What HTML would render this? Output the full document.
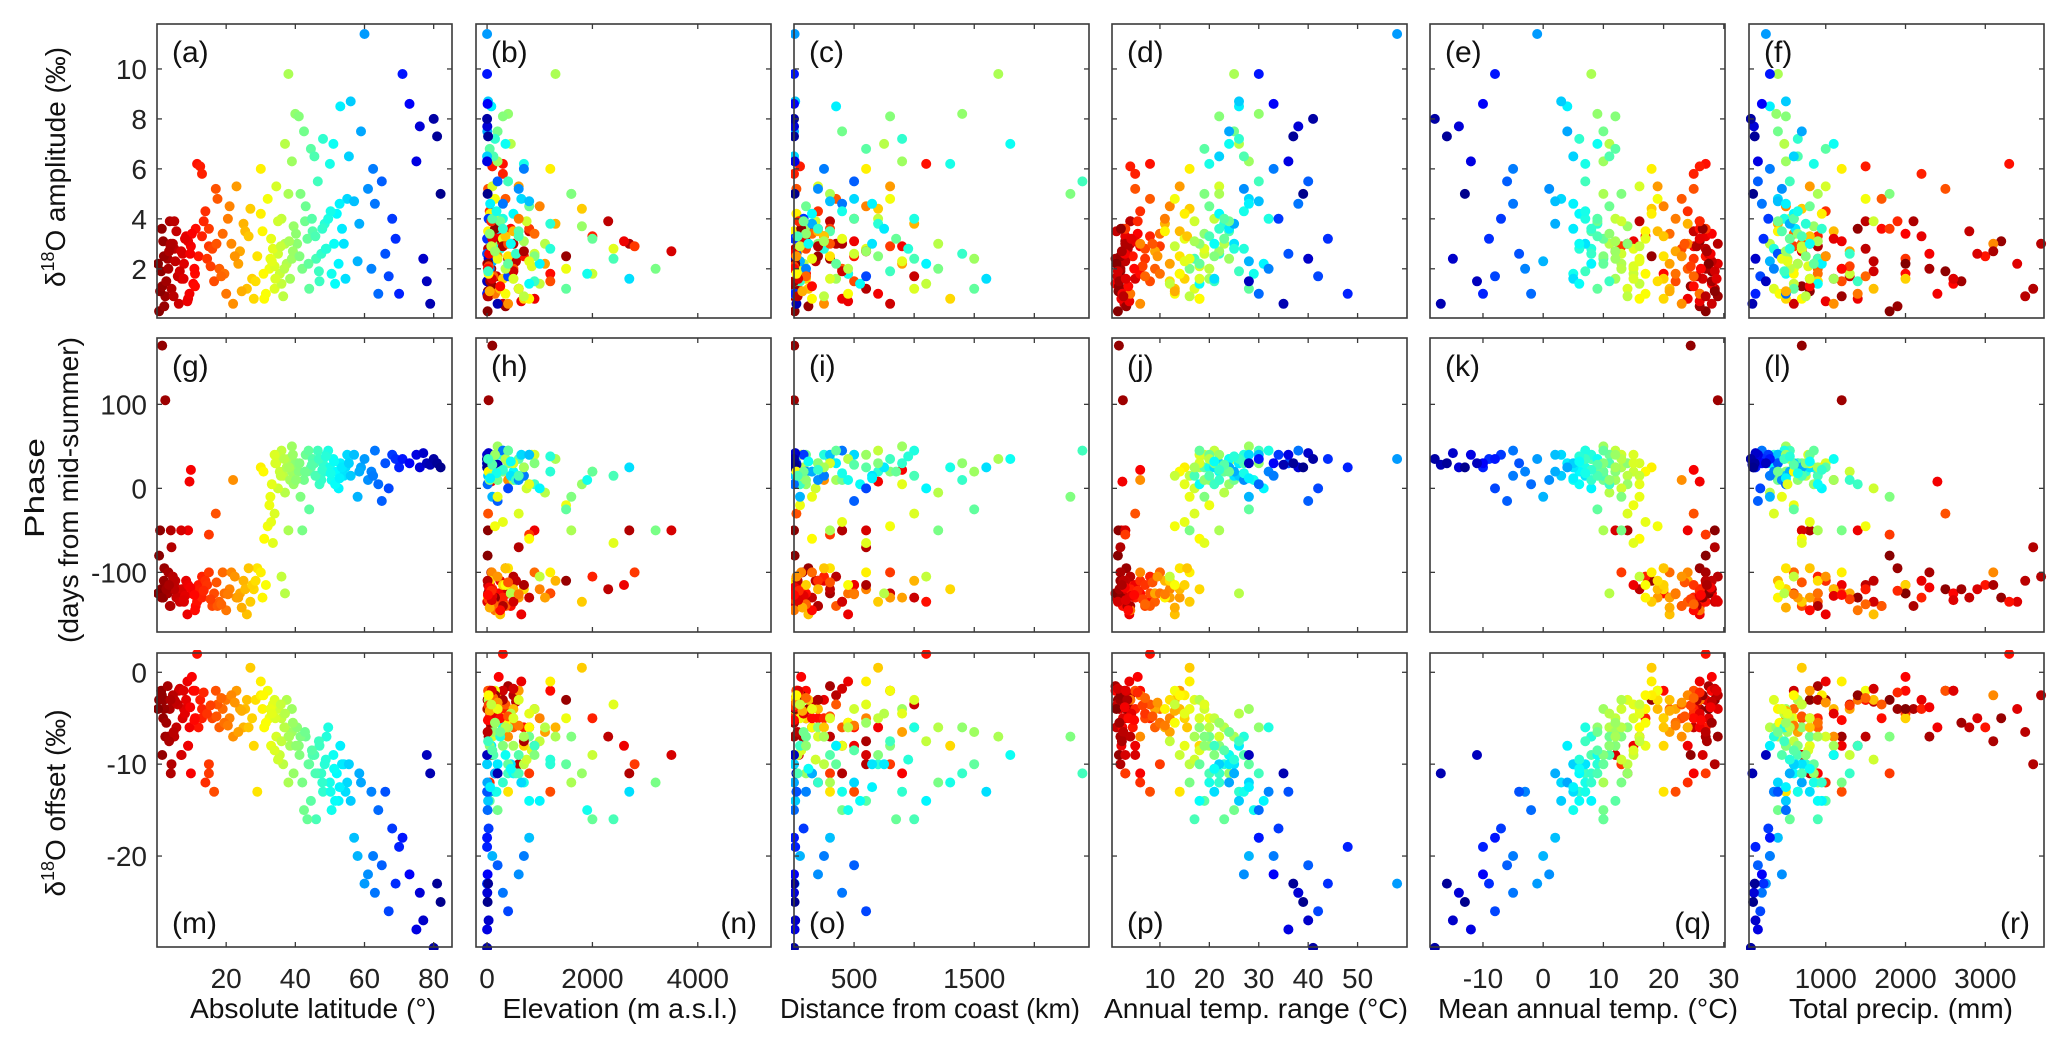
<!DOCTYPE html>
<html><head><meta charset="utf-8"><title>d18O scatter panels</title>
<style>
html,body{margin:0;padding:0;background:#fff;}
svg{display:block;font-family:"Liberation Sans",Arial,sans-serif;}
</style></head>
<body>
<svg id="fig" xmlns="http://www.w3.org/2000/svg" width="2067" height="1048" viewBox="0 0 2067 1048">
<rect x="0" y="0" width="2067" height="1048" fill="#fff"/>
<g id="marks"></g>
<g id="frames"></g>
<g id="labels"></g>
</svg>
<script>
// ---- station data, grouped by latitude band ----
const lat = [
0.6,1.2,1.8,2.4,3.1,3.7,4.2,5.0,5.6,6.3,7.1,7.8,8.4,9.0,9.8,10.5,11.2,12.0,0.9,2.1,3.3,4.6,6.0,7.4,8.8,10.1,11.6,1.5,5.3,9.4,
2,4,5,7,9,11,13,15,
12.5,13,14,15,16,16.5,17,18,19,20,21,22,23,24,25,26,27,28,14.5,17.5,19.5,21.5,23.5,25.5,27.5,
28.5,29,30,30.5,31,32,32.5,33,34,34.5,35,35.5,36,36.5,37,37.5,38,38.5,39,39.5,40,30,31.5,33.5,35,36,37,38,39,34,
40.5,41,42,42.5,43,44,44.5,45,46,46.5,47,48,48.5,49,50,50.5,51,52,52.5,53,54,54.5,55,41.5,43.5,45.5,47.5,49.5,51.5,53.5,
55.5,56,57,58,59,60,61,62,63,64,65,66,67,68,69,70,58.5,62.5,
71,73,75,76,77,78,79,80,81,82,
0.3,1.4,2.7,3.9,4.8,6.6,8.1,9.6,11.0,13.5,15.5,17.2,18.6,20.5,22.5,24.5,26.5,3.5,7.7,10.8,
30.8,32.8,34.2,35.8,36.8,38.2,39.3,40.2,41.2,42.8,43.8,44.8,45.8,46.8,47.8,48.8,50.2,51.2,52.8,33.2];
const elev = [
10,50,200,30,400,120,600,20,800,300,100,5,250,900,150,60,450,700,15,350,80,500,180,40,650,220,300,100,550,75,
1500,2700,2300,3500,2600,1200,2000,2800,
100,300,50,800,200,1200,20,500,900,150,1000,400,600,80,1300,250,1800,700,60,350,450,90,1100,500,300,
50,400,1200,20,800,150,1500,300,600,100,900,2000,250,700,1100,30,1300,500,200,1800,400,60,350,2400,750,1000,450,1600,120,850,
100,300,3200,200,800,1500,50,600,2400,400,900,150,1200,250,700,1900,350,500,1000,80,450,2700,650,1600,2000,120,550,300,800,200,
0,20,800,100,5,0,600,50,300,10,200,0,400,30,0,0,150,700,
0,10,0,5,30,0,200,0,20,10,
20,150,60,300,10,500,100,40,250,80,30,400,120,600,200,50,350,700,90,15,
30,200,500,80,350,700,150,50,900,250,400,100,600,20,300,1200,180,450,60,800];
const dist = [
5,20,100,0,300,50,600,10,150,800,40,0,250,400,900,30,200,500,0,120,70,350,1000,15,450,60,1100,2,180,700,
200,400,300,600,500,100,250,800,
50,0,200,300,100,500,20,400,150,0,600,250,800,30,1000,120,700,1300,10,350,450,60,900,200,100,
10,300,600,0,150,800,50,400,1000,200,500,30,700,250,1200,80,1700,350,900,100,1400,20,450,600,180,1100,750,300,1500,60,
200,800,1200,400,100,1500,600,300,1000,2400,50,900,700,250,1300,450,1800,150,1100,350,650,1600,500,2300,850,0,1400,1000,550,750,
0,10,300,50,0,5,200,100,400,0,500,20,600,80,0,10,150,250,
0,0,5,0,10,0,20,0,0,5,
10,60,0,200,30,400,80,5,150,40,0,300,100,500,20,70,250,600,35,0,
20,150,300,50,450,250,600,100,700,80,350,500,30,800,200,950,400,120,650,900];
const trange = [
1.5,2,3,2.5,1,4,2,3.5,1.2,2.8,5,1.8,3,2.2,6,1,2.5,4.5,1.6,3.2,2,4,1.4,2.6,3.8,5.5,8,1.7,3,2.4,
2,3,4,3,5,6,8,10,
4,5,6,3,7,8,5,9,10,4,12,6,14,9,11,13,16,18,7,8,10,6,12,14,15,
12,14,16,11,18,13,20,15,17,22,19,14,21,16,23,18,25,20,28,24,30,15,13,19,17,12,26,22,24,18,
18,22,16,25,20,28,19,24,17,30,21,26,23,27,20,29,24,22,31,26,25,21,28,19,23,27,22,32,18,24,
22,26,30,28,24,58,27,32,38,30,40,36,42,34,44,48,25,33,
30,33,36,38,40,28,35,41,37,39,
1.2,2.1,1.8,3.4,2.6,1.5,4.2,2.9,3.6,5.5,6.5,8.5,7.0,11.0,9.5,13.0,15.5,2.3,3.1,4.8,
14,16,18,13,20,17,22,19,21,24,18,23,20,26,22,25,27,21,28,15];
const tmean = [
27,28,26,29,27.5,26,28.5,27,25,28,26.5,29,27,24,25,28,26,27,28.5,26,27,29,25.5,27.5,26,28,27,24.5,28,26,
18,14,16,12,15,20,17,13,
26,25,24,27,23,22,25,24,21,26,20,23,19,22,24,21,18,20,25,23,22,24,21,19,20,
19,20,18,17,16,19,15,17,14,16,13,15,12,14,11,13,8,12,10,14,9,18,17,15,13,16,11,10,12,15,
14,12,13,10,11,9,12,8,10,7,11,6,9,8,7,5,9,6,8,4,7,5,3,13,10,11,8,7,6,5,
5,3,2,0,4,-1,1,-3,-5,-2,-6,-4,-8,-7,-9,-10,2,-5,
-8,-10,-12,-14,-15,-11,-17,-18,-16,-13,
27.5,26.5,28,25.5,27,28.5,26,27.8,25,26,24.5,23.5,25,22,23,21,20,27.2,28.8,26.2,
17,16,15,16,13,12,12,11,10,9,10,9,9,7,8,6,7,6,5,16];
const precip = [
1800,2500,3200,1200,900,2100,3600,1500,2800,600,1100,3400,2200,1400,900,2600,1700,3000,800,1900,2300,3700,1300,2900,1000,2000,3300,700,1600,2400,
1000,800,1500,700,1200,2000,900,600,
1500,2200,1000,1800,700,1200,2500,900,600,1400,500,1100,800,1300,400,1600,700,500,2000,1700,900,3100,650,1100,2000,
900,500,1200,400,700,1500,600,800,350,1000,450,1300,550,750,300,650,400,1100,500,850,380,950,420,700,1600,600,480,900,520,780,
700,500,1200,400,800,600,1000,450,900,550,1400,650,750,350,850,500,1100,600,950,300,700,800,400,1800,550,650,1300,480,900,620,
600,500,400,300,700,250,450,350,200,500,150,400,180,280,220,120,550,300,
300,200,150,100,120,250,80,60,110,90,
2000,1400,2700,900,3500,1600,1100,2300,800,1900,1300,700,1500,600,1000,500,800,3100,2600,1200,
600,450,800,700,550,900,500,650,750,400,850,600,700,480,950,550,650,800,500,520];
const amp = [
0.3,1.9,3.1,0.9,2.4,3.9,1.2,2.8,3.5,0.6,1.6,2.2,3.3,0.8,2.9,1.4,3.6,2.5,1.1,0.5,2.0,3.0,1.7,2.6,0.7,3.4,6.2,1.3,2.3,1.0,
2.5,3.0,3.9,2.7,3.1,1.8,3.3,2.9,
6.1,5.8,4.3,3.6,2.8,1.5,5.2,2.0,3.4,1.0,4.5,0.6,5.3,2.7,3.8,1.2,4.4,0.8,2.4,4.8,1.8,3.0,2.2,3.5,1.6,
1.5,2.5,6.0,3.5,0.8,4.8,2.0,3.2,1.2,5.3,2.6,1.8,4.0,0.9,3.0,2.2,9.8,1.6,6.3,3.7,8.2,4.2,1.0,2.8,3.9,1.4,7.0,5.0,2.4,2.1,
3.0,8.1,2.0,7.5,4.5,1.2,6.8,3.5,2.4,5.5,1.5,7.2,3.8,2.8,6.2,1.8,7.0,4.2,2.2,8.5,3.0,1.6,4.8,5.0,3.2,6.5,2.6,4.0,1.4,3.6,
6.5,8.7,4.7,2.3,7.5,11.4,5.2,2.0,4.6,1.0,5.5,2.6,1.7,4.0,3.2,1.0,3.8,6.0,
9.8,8.6,6.3,7.7,2.4,1.5,0.6,8.0,7.3,5.0,
2.2,3.6,1.5,2.9,0.9,1.9,3.2,2.6,1.3,3.9,2.1,3.0,1.7,4.0,2.5,1.1,3.3,2.7,1.6,2.0,
1.8,2.4,1.6,2.9,2.0,3.1,2.7,3.4,2.5,3.9,2.2,4.0,3.3,1.9,3.6,2.8,4.3,3.0,4.6,2.3];
const phase = [
-80,-120,-130,105,-125,-140,-70,-115,-130,-125,-120,-135,-110,-50,22,-125,-140,-115,-50,-95,-100,-105,-130,-120,-150,-125,-135,170,-110,8,
-110,-50,-120,-50,-115,-125,-105,-100,
-120,-130,-110,-55,-140,-125,-30,-135,-100,-145,-120,10,-130,-125,-110,-150,-135,-120,-115,-140,-125,-100,-130,-120,-115,
-110,-95,-100,-130,-60,-45,-20,-40,-30,30,40,20,45,15,-5,25,35,10,50,5,30,25,-115,-65,0,-105,-125,-50,20,40,
30,20,-50,10,40,-25,25,35,15,45,5,30,20,40,25,10,35,20,0,30,15,25,40,-10,20,30,10,45,5,25,
30,15,40,-10,25,35,10,20,45,5,-15,30,0,40,35,25,20,15,
35,30,40,25,42,30,28,35,30,25,
-125,-130,-120,-140,-110,-135,-128,-118,-145,-122,-132,-112,-138,-126,-105,-142,-95,-115,-133,-127,
20,-10,30,15,35,25,40,10,30,20,45,28,15,35,22,38,18,32,12,5];
const offset = [
-3,-2,-5,-7,-1.5,-4,-10,-3,-6,-2,-9,-4,-3,-8,-11,-2,-5,-6,-3,-4,-7,-2.5,-3.5,-5,-1,-0.5,2,-9,-3.2,-6,
-3,-11,-7,-9,-8,-2,-5,-10,
-3,-4,-12,-11,-5,-13,-2,-6,-4,-3,-5,-7,-2,-4,-6,-3,0.5,-8,-4.5,-3.5,-5.5,-2.5,-6.5,-4,-5,
-3,-13,-1,-4,-6,-2,-5,-8,-3,-7,-4,-9,-5,-10,-6,-3,-7,-8,-4,-11,-6,-2.5,-5.5,-3.5,-9.5,-7.5,-4.5,-12,-6.5,-8.5,
-6,-8,-12,-15,-7,-10,-14,-9,-16,-11,-8,-13,-10,-7,-12,-15,-9,-11,-14,-8,-10,-13,-12,-7,-16,-9,-11,-6,-14,-10,
-10,-14,-18,-20,-12,-23,-22,-13,-24,-15,-21,-13,-26,-17,-23,-19,-11,-20,
-18,-22,-28,-24,-27,-9,-11,-30,-23,-25,
-4,-2.5,-5.5,-3,-6.5,-1.8,-4.5,-3.8,-5,-2.2,-3.6,-4.8,-2.8,-5.8,-3.3,-4.2,-6,-7.5,-2,-5.2,
-2.5,-4,-5,-3.5,-6,-7,-5.5,-8,-9,-6.5,-10,-8.5,-11,-7.5,-12,-9.5,-13,-10.5,-12.5,-4.5];

// tick values & labels
const latTicks = [20,40,60,80];
const elevTicks = [0,2000,4000];
const distTicks = [500,1000,1500,2000];
const distTickLabels = ["500","","1500",""];
const trangeTicks = [10,20,30,40,50];
const tmeanTicks = [-10,0,10,20,30];
const precipTicks = [1000,2000,3000];
const ampTicks = [2,4,6,8,10];
const phaseTicks = [-100,0,100];
const offsetTicks = [-20,-10,0];

// ---- layout ----
const NS="http://www.w3.org/2000/svg";
const lefts=[157,476,794,1112,1430,1749], W=295;
const tops=[24,338,653], H=294;
const xs=[
 {v:lat, dom:[0,85.3], ticks:latTicks, labels:latTicks.map(String), title:"Absolute latitude (°)", tw:246, cx:313},
 {v:elev, dom:[-210,5390], ticks:elevTicks, labels:elevTicks.map(String), title:"Elevation (m a.s.l.)", tw:235, cx:620},
 {v:dist, dom:[0,2455], ticks:distTicks, labels:distTickLabels, title:"Distance from coast (km)", tw:300, cx:930},
 {v:trange, dom:[0.3,60], ticks:trangeTicks, labels:trangeTicks.map(String), title:"Annual temp. range (°C)", tw:304, cx:1256},
 {v:tmean, dom:[-18.8,30.2], ticks:tmeanTicks, labels:tmeanTicks.map(String), title:"Mean annual temp. (°C)", tw:300, cx:1588},
 {v:precip, dom:[38,3736], ticks:precipTicks, labels:precipTicks.map(String), title:"Total precip. (mm)", tw:224, cx:1901}
];
const ys=[
 {v:amp, dom:[0.03,11.8], ticks:ampTicks},
 {v:phase, dom:[-171,179], ticks:phaseTicks},
 {v:offset, dom:[-29.9,2.1], ticks:offsetTicks}
];
const letters="abcdefghijklmnopqr";
function xScale(c,val){const d=xs[c].dom;return lefts[c]+(val-d[0])/(d[1]-d[0])*W;}
function yScale(r,val){const d=ys[r].dom;return tops[r]+H-(val-d[0])/(d[1]-d[0])*H;}
function jet(t){const cl=v=>Math.max(0,Math.min(1,v));
 const r=cl(1.5-Math.abs(4*t-3)),g=cl(1.5-Math.abs(4*t-2)),b=cl(1.5-Math.abs(4*t-1));
 return "rgb("+Math.round(r*255)+","+Math.round(g*255)+","+Math.round(b*255)+")";}
function colorFor(l){return jet(1-Math.min(1,Math.max(0,l/83)));}
function mk(tag,attrs,parent){const e=document.createElementNS(NS,tag);for(const k in attrs)e.setAttribute(k,attrs[k]);parent.appendChild(e);return e;}

const gM=document.getElementById('marks'),gF=document.getElementById('frames'),gL=document.getElementById('labels');
for(let r=0;r<3;r++){for(let c=0;c<6;c++){
 const L=lefts[c],T=tops[r];
 const clipId="clip"+r+c;
 const cp=mk('clipPath',{id:clipId},gM);mk('rect',{x:L-3,y:T-3,width:W+6,height:H+6},cp);
 const g=mk('g',{'clip-path':'url(#'+clipId+')'},gM);
 
 
 const xv=xs[c].v,yv=ys[r].v;
 for(let i=0;i<lat.length;i++){
  const p=mk('circle',{cx:xScale(c,xv[i]).toFixed(1),cy:yScale(r,yv[i]).toFixed(1),r:5,fill:colorFor(lat[i])},g);
  
  
 }
 const fr=mk('rect',{x:L,y:T,width:W,height:H,fill:'none',stroke:'#3a3a3a','stroke-width':1.6},gF);
 
 
 xs[c].ticks.forEach(t=>{const x=xScale(c,t);
  mk('line',{x1:x,y1:T+H,x2:x,y2:T+H-5,stroke:'#3a3a3a','stroke-width':1.3},gF);
  mk('line',{x1:x,y1:T,x2:x,y2:T+5,stroke:'#3a3a3a','stroke-width':1.3},gF);});
 ys[r].ticks.forEach(t=>{const y=yScale(r,t);
  mk('line',{x1:L,y1:y,x2:L+5,y2:y,stroke:'#3a3a3a','stroke-width':1.3},gF);
  mk('line',{x1:L+W,y1:y,x2:L+W-5,y2:y,stroke:'#3a3a3a','stroke-width':1.3},gF);});
 const idx=r*6+c, txt="("+letters[idx]+")";
 let lt;
 if(r<2){lt=mk('text',{x:L+15,y:T+38,'font-size':30,fill:'#111'},gL);}
 else{const rightAl=(c===1||c===4||c===5);
  lt=mk('text',{x:rightAl?L+W-14:L+15,y:T+280,'font-size':30,fill:'#111','text-anchor':rightAl?'end':'start'},gL);}
 lt.textContent=txt;
 
 
}}
for(let r=0;r<3;r++){ys[r].ticks.forEach(t=>{
 const e=mk('text',{x:147,y:yScale(r,t)+10,'font-size':28,'text-anchor':'end',fill:'#222'},gL);
 e.textContent=String(t);
 
 });}
for(let c=0;c<6;c++){
 xs[c].ticks.forEach((t,k)=>{const lab=xs[c].labels[k];if(!lab)return;
  const e=mk('text',{x:xScale(c,t),y:988,'font-size':28,'text-anchor':'middle',fill:'#222'},gL);
  e.textContent=lab;
  
  });
 const ti=mk('text',{x:xs[c].cx,y:1018,'font-size':28,'text-anchor':'middle',fill:'#111',textLength:xs[c].tw,lengthAdjust:'spacingAndGlyphs'},gL);
 ti.textContent=xs[c].title;
 
 
}
</script>
<script>
(function(){
 const gL=document.getElementById('labels');const NS="http://www.w3.org/2000/svg";
 function yt(cx,cy,len,html,name){
  const t=document.createElementNS(NS,'text');
  t.setAttribute('transform','translate('+cx+','+cy+') rotate(-90)');
  t.setAttribute('text-anchor','middle');t.setAttribute('font-size','28');t.setAttribute('fill','#111');
  t.setAttribute('textLength',len);t.setAttribute('lengthAdjust','spacingAndGlyphs');
  t.innerHTML=html;
  
  
  gL.appendChild(t);
 }
 yt(65,167,240,'δ<tspan font-size="18" dy="-11">18</tspan><tspan dy="11">O amplitude (‰)</tspan>','y-axis-title-amplitude');
 yt(44,488,100,'Phase','y-axis-title-phase');
 yt(78,490,306,'(days from mid-summer)','y-axis-title-phase-units');
 yt(65,803,187,'δ<tspan font-size="18" dy="-11">18</tspan><tspan dy="11">O offset (‰)</tspan>','y-axis-title-offset');
})();
</script>
</body></html>
